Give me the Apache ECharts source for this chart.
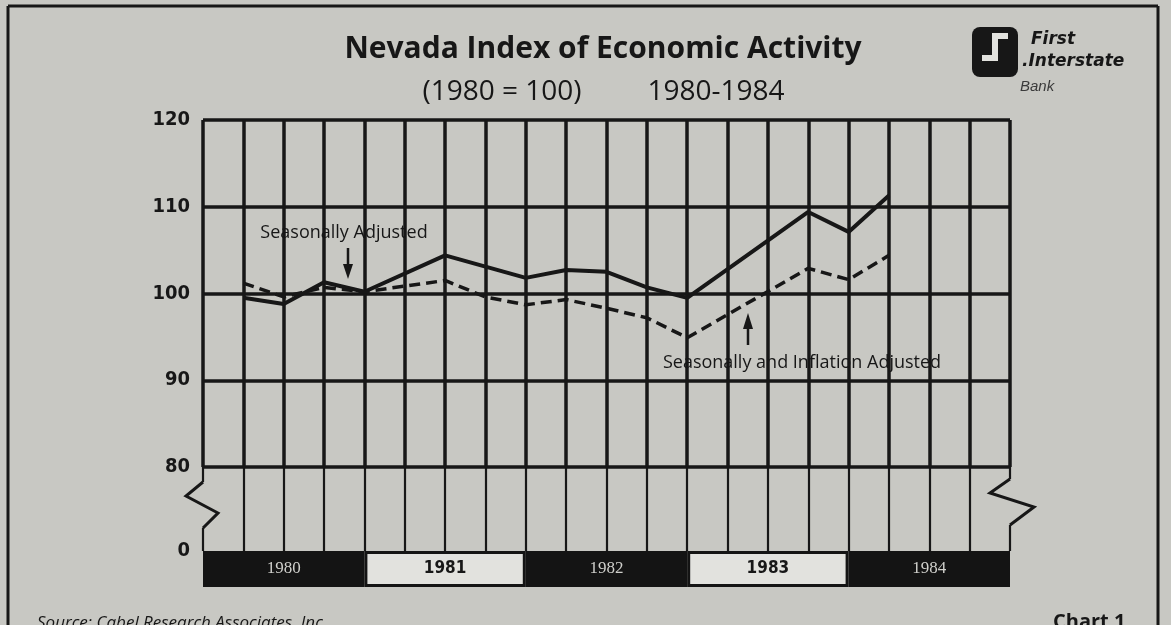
<!DOCTYPE html>
<html>
<head>
<meta charset="utf-8">
<script src="https://cdn.jsdelivr.net/npm/echarts@6/dist/echarts.min.js"></script>
<style>
  html, body { margin: 0; padding: 0; background: #c8c8c3; }
  #chart { width: 1171px; height: 625px; }
</style>
</head>
<body>
<div id="chart"></div>
<script>
// quarter boundaries, 1980 Q1 .. end of 1984
var quarterMarks = [
  '80-1', '80-2', '80-3', '80-4',
  '81-1', '81-2', '81-3', '81-4',
  '82-1', '82-2', '82-3', '82-4',
  '83-1', '83-2', '83-3', '83-4',
  '84-1', '84-2', '84-3', '84-4', '85-1'
]
var yearLabels = ['1980', '1981', '1982', '1983', '1984']

// index values (null = no plotted vertex there)
var seasonallyAdjusted = [null, 99.5, 98.8, 101.3, 100.2, null, 104.4, null, 101.8, 102.7,
  102.5, 100.7, 99.5, null, null, 109.4, 107.1, 111.3, null, null, null]
var inflationAdjusted = [null, 101.2, 99.6, 100.7, 100.2, null, 101.5, 99.6, 98.7, 99.3,
  98.3, 97.2, 94.9, null, null, 102.9, 101.6, 104.4, null, null, null]

var ink = '#171717'
var paper = '#c8c8c3'
var humanist = '"Open Sans", "Noto Sans", sans-serif'

var chart = echarts.init(document.getElementById('chart'))

function quarterAxis(gridIndex, width) {
  return {
    type: 'category',
    gridIndex: gridIndex,
    data: quarterMarks,
    boundaryGap: false,
    axisLine: { show: false },
    axisTick: { show: false },
    axisLabel: { show: false },
    splitLine: { show: true, lineStyle: { color: ink, width: width } }
  }
}

var yearData = yearLabels.map(function (y, i) {
  var dark = i % 2 === 0
  return {
    value: 1,
    itemStyle: {
      color: dark ? '#141414' : '#e2e2de',
      borderColor: '#141414',
      borderWidth: dark ? 0 : 3
    },
    label: {
      color: dark ? '#cfcfcb' : ink,
      fontFamily: dark ? '"Liberation Serif", serif' : '"DejaVu Sans Condensed", sans-serif',
      fontWeight: dark ? 'normal' : 'bold',
      fontSize: 17
    }
  }
})

var axisFont = {
  color: ink, fontSize: 20, fontWeight: 'bold', margin: 13,
  fontFamily: '"DejaVu Sans Condensed", sans-serif'
}

var option = {
  backgroundColor: paper,
  animation: false,
  grid: [
    { left: 203, width: 807, top: 120, height: 347 },
    { left: 203, width: 807, top: 467, height: 84 },
    { left: 203, width: 807, top: 551, height: 36 }
  ],
  xAxis: [
    quarterAxis(0, 3.5),
    quarterAxis(1, 2.2),
    {
      type: 'category', gridIndex: 2, data: yearLabels,
      axisLine: { show: false }, axisTick: { show: false },
      axisLabel: { show: false }, splitLine: { show: false }
    }
  ],
  yAxis: [
    {
      type: 'value', gridIndex: 0, min: 80, max: 120, interval: 10,
      axisLine: { show: false }, axisTick: { show: false },
      axisLabel: axisFont,
      splitLine: { show: true, lineStyle: { color: ink, width: 3.5 } }
    },
    {
      type: 'value', gridIndex: 1, min: 0, max: 10, interval: 10,
      axisLine: { show: false }, axisTick: { show: false },
      axisLabel: Object.assign({}, axisFont, {
        formatter: function (v) { return v === 0 ? '0' : '' }
      }),
      splitLine: { show: false }
    },
    {
      type: 'value', gridIndex: 2, min: 0, max: 1, show: false
    }
  ],
  series: [
    {
      name: 'Seasonally Adjusted',
      type: 'line',
      xAxisIndex: 0, yAxisIndex: 0,
      data: seasonallyAdjusted,
      connectNulls: true,
      symbol: 'none',
      lineStyle: { color: ink, width: 4 },
      z: 5
    },
    {
      name: 'Seasonally and Inflation Adjusted',
      type: 'line',
      xAxisIndex: 0, yAxisIndex: 0,
      data: inflationAdjusted,
      connectNulls: true,
      symbol: 'none',
      lineStyle: { color: ink, width: 3.5, type: [11, 6] },
      z: 5
    },
    {
      type: 'bar',
      xAxisIndex: 2, yAxisIndex: 2,
      data: yearData,
      barWidth: '100%',
      label: { show: true, position: 'inside', formatter: '{b}' },
      silent: true
    }
  ],
  graphic: [
    // outer frame of the clipping
    { type: 'line', shape: { x1: 8, y1: 6, x2: 1158, y2: 6 }, style: { stroke: ink, lineWidth: 3 } },
    { type: 'line', shape: { x1: 8, y1: 6, x2: 8, y2: 625 }, style: { stroke: ink, lineWidth: 3 } },
    { type: 'line', shape: { x1: 1158, y1: 6, x2: 1158, y2: 625 }, style: { stroke: ink, lineWidth: 3 } },

    // axis break marks
    { type: 'rect', shape: { x: 197, y: 482, width: 12, height: 46 }, style: { fill: paper }, z: 10 },
    { type: 'polyline', shape: { points: [[203, 482], [186, 496], [218, 513], [203, 528]] },
      style: { stroke: ink, lineWidth: 3, fill: null }, z: 11 },
    { type: 'rect', shape: { x: 1004, y: 479, width: 12, height: 46 }, style: { fill: paper }, z: 10 },
    { type: 'polyline', shape: { points: [[1010, 479], [990, 493], [1034, 507], [1010, 525]] },
      style: { stroke: ink, lineWidth: 3, fill: null }, z: 11 },

    // titles
    { type: 'text', style: { text: 'Nevada Index of Economic Activity', x: 603, y: 49,
      font: 'bold 30px ' + humanist, fill: ink, textAlign: 'center', textVerticalAlign: 'middle' } },
    { type: 'text', style: { text: '(1980 = 100)', x: 502, y: 92,
      font: '28px ' + humanist, fill: ink, textAlign: 'center', textVerticalAlign: 'middle' } },
    { type: 'text', style: { text: '1980-1984', x: 716, y: 92,
      font: '28px ' + humanist, fill: ink, textAlign: 'center', textVerticalAlign: 'middle' } },

    // annotations
    { type: 'text', style: { text: 'Seasonally Adjusted', x: 344, y: 233,
      font: '18px ' + humanist, fill: ink, textAlign: 'center', textVerticalAlign: 'middle' }, z: 12 },
    { type: 'line', shape: { x1: 348, y1: 248, x2: 348, y2: 268 }, style: { stroke: ink, lineWidth: 2.5 }, z: 12 },
    { type: 'polygon', shape: { points: [[343, 264], [353, 264], [348, 279]] }, style: { fill: ink }, z: 12 },
    { type: 'text', style: { text: 'Seasonally and Inflation Adjusted', x: 802, y: 363,
      font: '18px ' + humanist, fill: ink, textAlign: 'center', textVerticalAlign: 'middle' }, z: 12 },
    { type: 'line', shape: { x1: 748, y1: 345, x2: 748, y2: 325 }, style: { stroke: ink, lineWidth: 2.5 }, z: 12 },
    { type: 'polygon', shape: { points: [[743, 329], [753, 329], [748, 313]] }, style: { fill: ink }, z: 12 },

    // bank logo
    { type: 'rect', shape: { x: 972, y: 27, width: 46, height: 50, r: 8 }, style: { fill: ink } },
    { type: 'rect', shape: { x: 992, y: 33, width: 6, height: 28 }, style: { fill: '#e2e2de' } },
    { type: 'rect', shape: { x: 982, y: 55, width: 16, height: 6 }, style: { fill: '#e2e2de' } },
    { type: 'rect', shape: { x: 992, y: 33, width: 16, height: 6 }, style: { fill: '#e2e2de' } },
    { type: 'text', style: { text: 'First', x: 1031, y: 40,
      font: 'italic bold 17px "DejaVu Sans", sans-serif', fill: ink, textVerticalAlign: 'middle' } },
    { type: 'text', style: { text: '.Interstate', x: 1022, y: 62,
      font: 'italic bold 17px "DejaVu Sans", sans-serif', fill: ink, textVerticalAlign: 'middle' } },
    { type: 'text', style: { text: 'Bank', x: 1020, y: 87,
      font: 'italic 15px "Liberation Sans", sans-serif', fill: '#3a3a3a', textVerticalAlign: 'middle' } },

    // footer, cut off by the clipping edge
    { type: 'text', style: { text: 'Source: Cabel Research Associates, Inc.', x: 37, y: 615,
      font: 'italic 17px ' + humanist, fill: ink, textVerticalAlign: 'top' } },
    { type: 'text', style: { text: 'Chart 1', x: 1053, y: 612,
      font: 'bold 20px ' + humanist, fill: ink, textVerticalAlign: 'top' } }
  ]
}

chart.setOption(option)
</script>
</body>
</html>
